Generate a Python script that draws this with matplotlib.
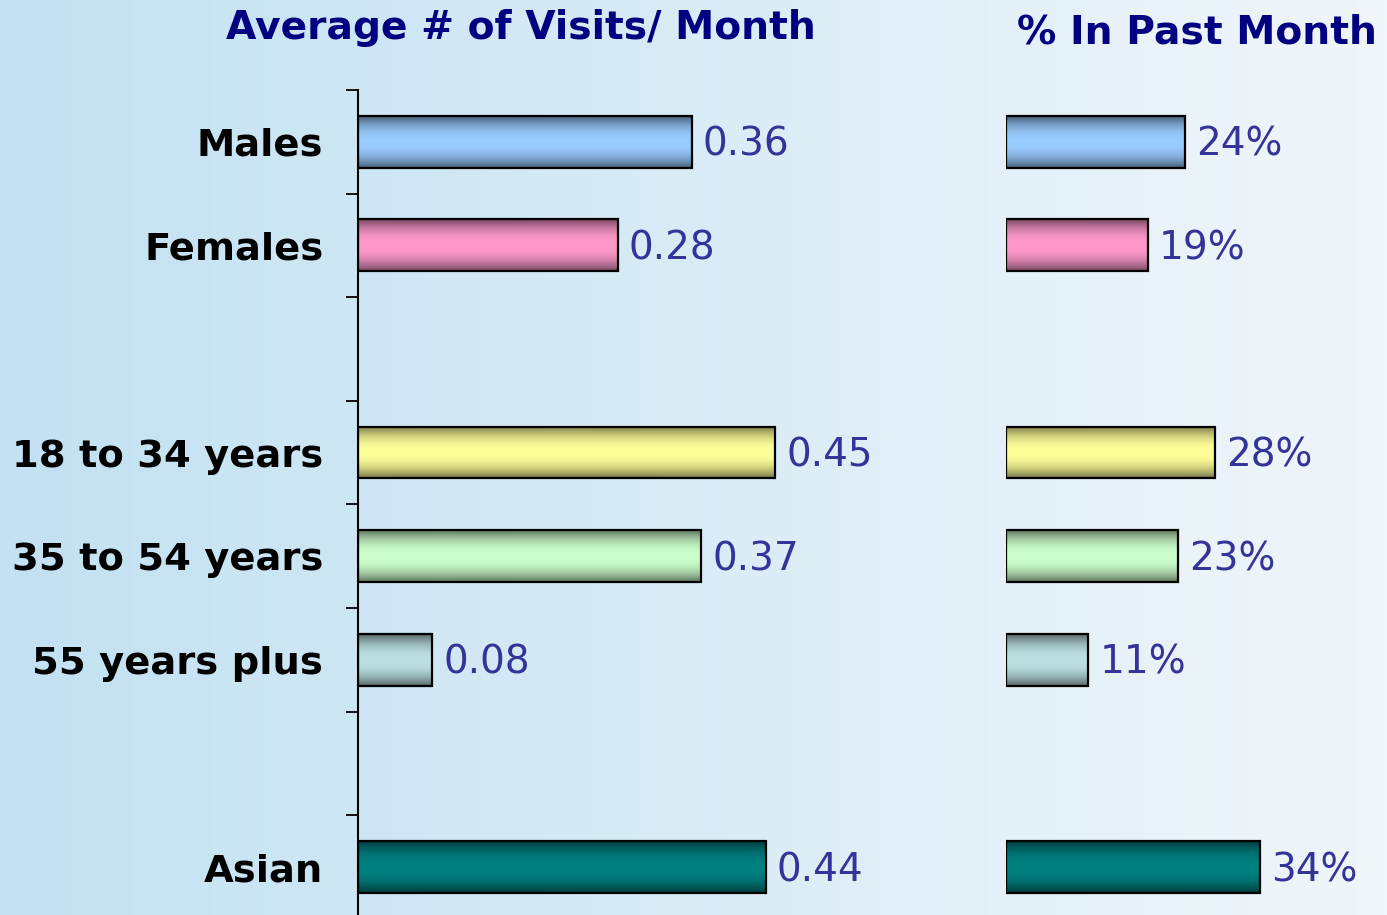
import numpy as np
import matplotlib
matplotlib.use("Agg")
import matplotlib.pyplot as plt
from matplotlib.colors import to_rgb
from matplotlib.patches import Rectangle

# ---- data ----
categories = ["Males", "Females", "", "18 to 34 years", "35 to 54 years", "55 years plus", "", "Asian"]
avg_visits = [0.36, 0.28, None, 0.45, 0.37, 0.08, None, 0.44]
pct_past_month = [24, 19, None, 28, 23, 11, None, 34]
visit_labels = ["0.36", "0.28", "", "0.45", "0.37", "0.08", "", "0.44"]
pct_labels = ["24%", "19%", "", "28%", "23%", "11%", "", "34%"]
bar_colors = ["#99CCFF", "#FF99CC", None, "#FFFF99", "#CCFFCC", "#BCE0E2", None, "#008080"]
title_left = "Average # of Visits/ Month"
title_right = "% In Past Month"

W, H = 1387, 915
fig = plt.figure(figsize=(W / 100, H / 100), dpi=100)

# background gradient
bg = fig.add_axes([0, 0, 1, 1], zorder=-10)
c0 = np.array([194, 225, 242]) / 255
c1 = np.array([240, 246, 250]) / 255
t = np.linspace(0, 1, 400)
grad = c0[None, :] * (1 - t[:, None]) + c1[None, :] * t[:, None]
bg.imshow(grad[None, :, :], aspect="auto", extent=[0, 1, 0, 1])
bg.set_axis_off()

n = len(categories)
slot_px = 103.6
top_px = 90
ax_h = n * slot_px / H
ax_bottom = 1 - (top_px + n * slot_px) / H

px_per_unit_left = 927.0
left_x0 = 358
left_w = 602
axL = fig.add_axes([left_x0 / W, ax_bottom, left_w / W, ax_h])

px_per_pct = 7.47
right_x0 = 1006
right_w = W - right_x0
axR = fig.add_axes([right_x0 / W, ax_bottom, right_w / W, ax_h])

for ax in (axL, axR):
    ax.patch.set_alpha(0)

bar_h = 0.5
fs_val = 28
fs_cat = 27.7
cap_val = 0.729 * fs_val
cap_cat = 0.729 * fs_cat


def shaded_bar(ax, y, val, color):
    base = np.array(to_rgb(color))
    tt = np.linspace(-1, 1, 200)
    f = 1 - 0.55 * np.abs(tt) ** 2.2
    cols = base[None, :] * f[:, None]
    ax.imshow(cols[:, None, :], aspect="auto", extent=[0, val, y + bar_h / 2, y - bar_h / 2],
              origin="upper", zorder=2, interpolation="bilinear")
    ax.add_patch(Rectangle((0, y - bar_h / 2), val, bar_h, fill=False,
                           edgecolor="black", linewidth=1.6, zorder=3))


for i in range(n):
    if avg_visits[i] is None:
        continue
    shaded_bar(axL, i, avg_visits[i], bar_colors[i])
    axL.annotate(visit_labels[i], xy=(avg_visits[i], i), xytext=(8.0, -cap_val / 2),
                 textcoords="offset points", ha="left", va="baseline",
                 fontsize=fs_val, color="#333399", zorder=4)
    shaded_bar(axR, i, pct_past_month[i], bar_colors[i])
    axR.annotate(pct_labels[i], xy=(pct_past_month[i], i), xytext=(8.0, -cap_val / 2),
                 textcoords="offset points", ha="left", va="baseline",
                 fontsize=fs_val, color="#333399", zorder=4)
    axL.annotate(categories[i], xy=(0, i), xycoords=("axes fraction", "data"),
                 xytext=(-25, -cap_cat / 2), textcoords="offset points",
                 ha="right", va="baseline", fontsize=fs_cat, fontweight="bold", color="black")

axL.set_xlim(0, left_w / px_per_unit_left)
axR.set_xlim(0, right_w / px_per_pct)
for ax in (axL, axR):
    ax.set_ylim(n - 0.5, -0.5)
    ax.set_xticks([])
    for s in ("top", "right", "bottom"):
        ax.spines[s].set_visible(False)

axR.spines["left"].set_visible(False)
axR.set_yticks([])

axL.spines["left"].set_linewidth(1.5)
axL.set_yticks([])
axL.set_yticks(np.arange(-0.5, n, 1.0), minor=True)
axL.tick_params(axis="y", which="minor", length=8.6, width=1.3, direction="out", labelleft=False)

fig.text(521 / W, 1 - 28 / H, title_left, ha="center", va="center",
         fontsize=28.3, fontweight="bold", color="#000080")
fig.text(1197 / W, 1 - 32 / H, title_right, ha="center", va="center",
         fontsize=28.3, fontweight="bold", color="#000080")

fig.savefig("out.png", dpi=100)
